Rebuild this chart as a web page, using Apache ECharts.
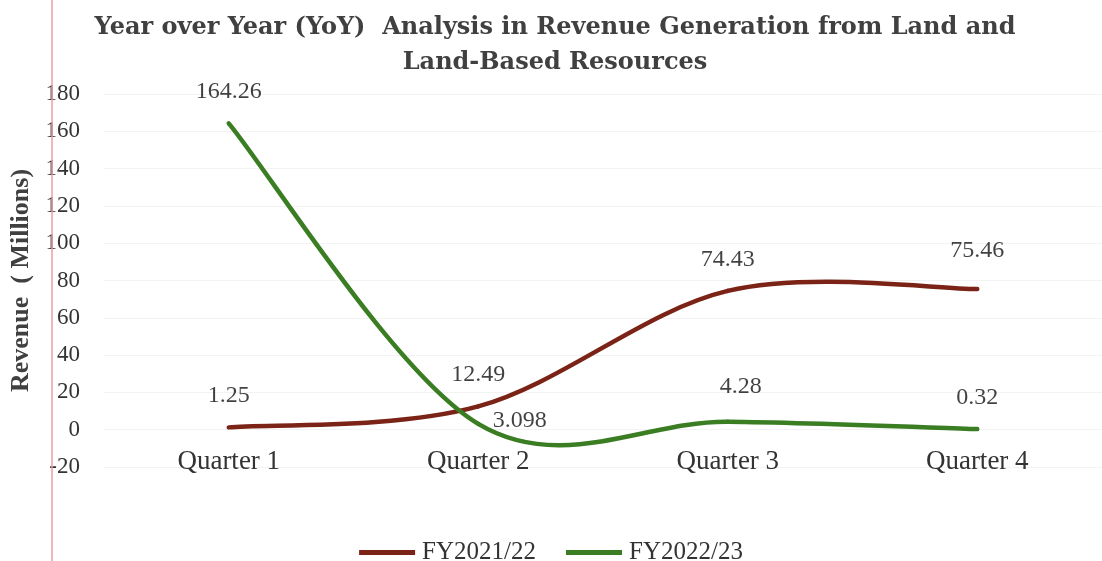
<!DOCTYPE html>
<html>
<head>
<meta charset="utf-8">
<script src="https://cdn.jsdelivr.net/npm/echarts@6/dist/echarts.min.js"></script>
<style>
  html, body { margin: 0; padding: 0; background: #fff; }
  #chart { width: 1102px; height: 561px; }
</style>
</head>
<body>
<div id="chart"></div>
<script>
const quarters = ["Quarter 1", "Quarter 2", "Quarter 3", "Quarter 4"];
const fy2122 = [1.25, 12.49, 74.43, 75.46];
const fy2223 = [164.26, 3.098, 4.28, 0.32];
const yTicks = { min: -20, max: 180, step: 20 };

const serif = "'Liberation Serif', 'DejaVu Serif', serif";
const textColor = "#333";
const brown = "#7a2316";
const green = "#3a7d22";

const chart = echarts.init(document.getElementById("chart"));

// Excel-style smoothed line: cubic bezier segments through the points
function smoothLine(values, color) {
  return function (params, api) {
    const i = params.dataIndex;
    const n = values.length;
    if (i >= n - 1) return null;
    const pts = values.map((v, k) => api.coord([k, v]));
    const p0 = pts[Math.max(i - 1, 0)];
    const p1 = pts[i];
    const p2 = pts[i + 1];
    const p3 = pts[Math.min(i + 2, n - 1)];
    return {
      type: "bezierCurve",
      shape: {
        x1: p1[0], y1: p1[1],
        x2: p2[0], y2: p2[1],
        cpx1: p1[0] + (p2[0] - p0[0]) / 6,
        cpy1: p1[1] + (p2[1] - p0[1]) / 6,
        cpx2: p2[0] - (p3[0] - p1[0]) / 6,
        cpy2: p2[1] - (p3[1] - p1[1]) / 6,
      },
      style: { stroke: color, lineWidth: 4.5, fill: null, lineCap: "round" },
    };
  };
}

const labelBase = {
  show: true,
  position: "top",
  distance: 19,
  fontFamily: serif,
  fontSize: 24,
  color: "#111",
};

chart.setOption({
  animation: false,
  title: {
    text: "Year over Year (YoY)  Analysis in Revenue Generation from Land and\nLand-Based Resources",
    left: 550,
    textAlign: "center",
    top: 5,
    textStyle: {
      fontFamily: "'DejaVu Serif', serif",
      fontSize: 24,
      fontWeight: "bold",
      color: "#404040",
      lineHeight: 35,
    },
  },
  legend: {
    top: 535,
    left: "center",
    itemWidth: 56,
    itemHeight: 5,
    itemGap: 30,
    icon: "rect",
    textStyle: { fontFamily: serif, fontSize: 25, color: textColor, padding: [0, 0, 0, 2] },
    data: ["FY2021/22", "FY2022/23"],
  },
  grid: { left: 104, width: 1012, top: 94, bottom: 94, containLabel: false },
  xAxis: {
    type: "category",
    data: quarters,
    boundaryGap: true,
    offset: -37,
    axisLine: { show: false, onZero: false },
    axisTick: { show: false },
    axisLabel: { fontFamily: serif, fontSize: 27, color: textColor, margin: 18 },
  },
  yAxis: {
    type: "value",
    min: yTicks.min,
    max: yTicks.max,
    interval: yTicks.step,
    name: "Revenue  ( Millions)",
    nameLocation: "middle",
    nameGap: 54,
    nameTextStyle: { fontFamily: serif, fontSize: 26, fontWeight: "bold", color: "#404040" },
    axisLabel: { fontFamily: serif, fontSize: 23, color: textColor, margin: 24 },
    splitLine: { lineStyle: { color: "#f3f3f3", width: 1 } },
  },
  graphic: [
    {
      type: "line",
      shape: { x1: 52, y1: 0, x2: 52, y2: 561 },
      style: { stroke: "#e6a1aa", lineWidth: 1.5 },
      z: 100,
    },
  ],
  series: [
    {
      name: "FY2021/22",
      type: "custom",
      data: fy2122.map((v, i) => [i, v]),
      encode: { x: 0, y: 1 },
      itemStyle: { color: brown },
      renderItem: smoothLine(fy2122, brown),
    },
    {
      name: "FY2022/23",
      type: "custom",
      data: fy2223.map((v, i) => [i, v]),
      encode: { x: 0, y: 1 },
      itemStyle: { color: green },
      renderItem: smoothLine(fy2223, green),
    },
    {
      type: "scatter",
      symbolSize: 1,
      itemStyle: { color: "rgba(0,0,0,0)" },
      label: labelBase,
      data: fy2122.map((v, i) =>
        i === 3 ? { value: [i, v], label: { offset: [0, -7] } } : [i, v]
      ),
    },
    {
      type: "scatter",
      symbolSize: 1,
      itemStyle: { color: "rgba(0,0,0,0)" },
      label: labelBase,
      data: fy2223.map((v, i) => {
        if (i === 1) return { value: [i, v], label: { position: "right", distance: 14, offset: [0, -3] } };
        if (i === 2) return { value: [i, v], label: { offset: [13, -4] } };
        return [i, v];
      }),
    },
  ],
});
</script>
</body>
</html>
